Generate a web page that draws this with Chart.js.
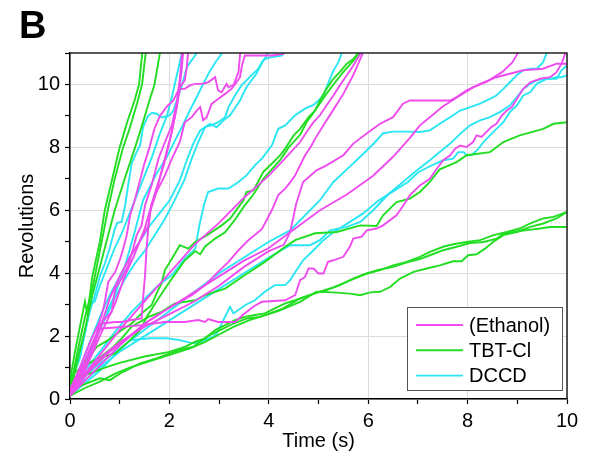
<!DOCTYPE html>
<html>
<head>
<meta charset="utf-8">
<script src="https://cdn.jsdelivr.net/npm/chart.js@4.4.1/dist/chart.umd.min.js"></script>
<style>
  html, body { margin: 0; padding: 0; background: #fff; }
  #wrap { width: 589px; height: 461px; }
</style>
</head>
<body>
<div id="wrap"><canvas id="chart" width="589" height="461"></canvas></div>
<script>
// traces: [time (s), revolutions]
var ethanol1 = [[0,0.3],[0.2,1.0],[0.4,1.8],[0.55,2.3],[0.64,2.4],[0.91,2.45],[1.04,2.45],[1.24,2.51],[1.44,2.56],[1.47,3.2],[1.51,3.94],[1.54,4.78],[1.58,5.52],[1.64,6.2],[1.74,6.58],[1.85,7.3],[1.95,7.9],[2.05,8.5],[2.15,9.3],[2.21,10.0],[2.25,10.5],[2.28,11.1]];
var ethanol2 = [[0,0.2],[0.5,1.61],[0.57,2.35],[0.64,2.67],[0.7,3.09],[0.77,3.72],[0.91,4.04],[1.01,4.46],[1.07,4.78],[1.14,5.2],[1.21,5.84],[1.3,6.3],[1.4,6.9],[1.5,7.5],[1.6,8.0],[1.7,8.6],[1.81,9.0],[1.95,9.3],[2.08,9.49],[2.21,9.91],[2.31,10.13],[2.35,10.55],[2.38,11.1]];
var ethanol3 = [[0,0.3],[0.3,1.2],[0.64,2.45],[0.84,2.77],[0.91,3.51],[1.04,3.83],[1.17,4.25],[1.27,4.78],[1.34,5.2],[1.44,5.52],[1.51,6.16],[1.64,6.79],[1.78,7.64],[1.91,8.17],[2.05,8.7],[2.15,9.44],[2.21,10.18],[2.26,11.1]];
var ethanol4 = [[0,0.1],[0.3,0.9],[0.6,2.0],[0.9,3.0],[1.1,3.9],[1.3,4.6],[1.5,5.4],[1.7,6.5],[1.9,7.5],[2.05,8.5],[2.15,9.3],[2.21,9.86],[2.31,9.86],[2.41,9.97],[2.52,10.02],[2.65,10.02],[2.78,10.07],[2.92,10.23],[2.98,9.81],[3.05,9.75],[3.15,10.02],[3.19,9.91],[3.29,9.99],[3.39,10.39],[3.43,11.1]];
var ethanol5 = [[0,0.3],[0.3,1.0],[0.6,2.2],[0.8,3.2],[1.0,3.9],[1.2,4.5],[1.4,5.0],[1.58,5.52],[1.61,5.95],[1.74,6.58],[1.91,7.11],[2.05,7.64],[2.21,8.17],[2.31,8.8],[2.45,8.96],[2.55,9.17],[2.62,9.28],[2.68,8.86],[2.75,8.96],[2.85,9.38],[2.98,9.54],[3.12,9.7],[3.25,9.86],[3.35,10.07],[3.42,10.23],[3.46,10.6],[3.52,10.92],[3.8,10.92],[4.06,10.92],[4.29,10.97],[4.35,11.1]];
var ethanol6 = [[0,0.2],[0.5,1.2],[1.0,2.2],[1.5,3.1],[2.0,4.0],[2.5,4.9],[3.0,5.6],[3.5,6.4],[4.0,7.1],[4.3,7.6],[4.63,8.17],[4.76,8.49],[4.9,8.8],[5.03,9.02],[5.16,9.33],[5.3,9.65],[5.43,9.97],[5.57,10.29],[5.7,10.6],[5.84,10.97],[5.87,11.1]];
var ethanol7 = [[0,0.1],[0.5,0.9],[1.0,1.7],[1.5,2.4],[2.0,2.9],[2.45,3.3],[2.72,3.62],[2.98,4.04],[3.19,4.36],[3.39,4.73],[3.59,5.05],[3.86,5.4],[4.06,6.0],[4.19,6.48],[4.33,6.69],[4.46,6.95],[4.53,7.11],[4.63,7.43],[4.73,7.75],[4.86,8.06],[4.93,8.27],[5.1,8.7],[5.3,9.2],[5.5,9.7],[5.7,10.3],[5.92,11.1]];
var ethanol8 = [[0,0.2],[0.3,0.8],[0.6,1.3],[1.0,1.8],[1.5,2.3],[2.0,2.7],[2.5,3.1],[3.0,3.6],[3.5,4.2],[4.0,4.7],[4.3,4.9],[4.43,5.3],[4.55,6.2],[4.69,6.9],[4.96,7.27],[5.16,7.43],[5.5,7.75],[5.7,8.12],[5.97,8.44],[6.24,8.75],[6.5,8.96],[6.7,9.39],[6.84,9.49],[7.65,9.49],[7.78,9.6],[7.98,9.81],[8.25,10.02],[8.58,10.23],[9.12,10.45],[9.52,10.5],[9.79,10.66],[10,10.66]];
var ethanol9 = [[0,0.1],[0.4,0.9],[0.8,1.5],[1.2,2.0],[1.6,2.5],[2.0,2.9],[2.5,3.4],[3.0,3.9],[3.5,4.4],[4.0,4.8],[4.6,5.5],[5.03,6.0],[5.57,6.5],[6.1,7.1],[6.5,7.7],[6.84,8.3],[7.04,8.7],[7.24,8.96],[7.5,9.3],[7.8,9.6],[8.1,9.9],[8.4,10.1],[8.7,10.4],[8.9,10.7],[9.05,11.1]];
var ethanol10 = [[0,0.1],[0.2,0.8],[0.4,1.6],[0.55,2.1],[0.64,2.24],[1.04,2.29],[1.44,2.35],[1.91,2.45],[2.31,2.45],[2.58,2.51],[2.72,2.45],[2.78,2.54],[2.98,2.45],[3.32,2.45],[3.5,2.7],[3.7,2.95],[3.86,3.09],[4.33,3.14],[4.53,3.3],[4.63,3.78],[4.73,3.88],[4.8,4.15],[4.9,4.15],[5.0,3.99],[5.1,3.99],[5.19,4.36],[5.3,4.41],[5.5,4.52],[5.63,4.84],[5.7,5.1],[5.87,5.16],[5.97,5.36],[6.17,5.42],[6.3,5.52],[6.57,5.84],[6.71,6.16],[6.84,6.48],[7.04,6.79],[7.24,7.0],[7.38,7.32],[7.51,7.59],[7.65,7.75],[7.75,7.96],[7.85,8.06],[7.98,8.01],[8.11,8.17],[8.18,8.38],[8.28,8.33],[8.38,8.49],[8.48,8.65],[8.58,8.75],[8.69,9.02],[8.79,9.17],[8.89,9.28],[8.99,9.54],[9.12,9.86],[9.26,10.07],[9.46,10.18],[9.66,10.23],[9.79,10.39],[9.89,10.66],[9.96,10.97],[9.98,11.1]];

var tbt1 = [[0,0.6],[0.1,1.5],[0.2,2.3],[0.3,3.1],[0.35,2.7],[0.45,3.9],[0.6,5.0],[0.7,6.0],[0.85,7.0],[1.0,8.0],[1.15,8.8],[1.3,9.5],[1.39,10],[1.46,11.1]];
var tbt2 = [[0,0.3],[0.15,1.5],[0.3,2.6],[0.45,3.5],[0.55,4.3],[0.65,5.1],[0.76,6.0],[0.9,7.0],[1.07,8.0],[1.2,8.6],[1.35,9.4],[1.45,10],[1.53,11.1]];
var tbt3 = [[0,0.2],[0.15,1.2],[0.3,2.2],[0.45,3.3],[0.6,4.2],[0.75,5.1],[0.9,6.0],[1.1,7.0],[1.31,8.0],[1.45,8.7],[1.6,9.5],[1.7,10],[1.82,11.1]];
var tbt4 = [[0,0.3],[0.2,0.9],[0.54,1.66],[0.77,1.87],[1.04,2.19],[1.24,2.4],[1.44,2.72],[1.64,2.98],[1.74,3.35],[1.84,3.67],[1.91,4.1],[2.05,4.46],[2.21,4.89],[2.38,4.78],[2.52,4.99],[2.75,5.2],[3.05,5.52],[3.22,5.73],[3.32,5.95],[3.49,6.32],[3.55,6.58],[3.69,6.63],[3.89,7.22],[4.06,7.48],[4.23,7.75],[4.33,7.96],[4.5,8.38],[4.63,8.59],[4.8,8.96],[4.93,9.17],[5.03,9.49],[5.16,9.86],[5.3,10.18],[5.43,10.4],[5.57,10.66],[5.7,10.81],[5.8,11.0],[5.82,11.1]];
var tbt5 = [[0,0.6],[0.34,0.81],[0.67,1.34],[0.91,1.45],[1.21,1.87],[1.41,2.19],[1.54,2.6],[1.74,3.1],[1.95,3.6],[2.31,4.41],[2.45,4.6],[2.52,4.7],[2.62,4.6],[2.72,4.85],[2.92,5.1],[3.12,5.3],[3.32,5.7],[3.49,6.1],[3.69,6.5],[3.89,7.0],[4.06,7.3],[4.23,7.6],[4.4,8.0],[4.63,8.4],[4.76,8.8],[4.9,9.1],[5.03,9.4],[5.16,9.7],[5.3,10.0],[5.5,10.4],[5.7,10.75],[5.87,11.1]];
var tbt6 = [[0,0.3],[0.03,0.76],[0.3,1.08],[0.57,1.29],[0.84,1.61],[1.04,1.93],[1.24,2.3],[1.58,2.61],[1.84,2.77],[2.11,3.04],[2.52,3.14],[2.72,3.3],[3.12,3.51],[3.52,3.94],[3.92,4.36],[4.33,4.84],[4.53,5.05],[4.93,5.27],[5.37,5.31],[5.84,5.52],[6.17,5.5],[6.3,5.84],[6.57,6.26],[6.84,6.37],[7.04,6.58],[7.24,6.9],[7.44,7.3],[7.78,7.53],[7.98,7.75],[8.45,7.85],[8.72,8.17],[9.05,8.38],[9.52,8.59],[9.73,8.75],[10,8.8]];
var tbt7 = [[0,0.29],[0.34,0.5],[0.6,0.66],[0.8,0.6],[1.01,0.81],[1.41,1.13],[1.74,1.29],[2.01,1.45],[2.21,1.56],[2.48,1.66],[2.75,1.98],[3.02,2.19],[3.29,2.4],[3.56,2.56],[3.82,2.61],[4.02,2.72],[4.29,2.88],[4.63,3.2],[4.9,3.35],[5.16,3.46],[5.43,3.62],[5.7,3.83],[5.97,3.99],[6.24,4.1],[6.5,4.25],[6.77,4.36],[7.04,4.52],[7.24,4.68],[7.51,4.84],[7.71,4.92],[7.98,4.99],[8.25,5.05],[8.52,5.21],[8.79,5.31],[9.05,5.42],[9.26,5.58],[9.52,5.74],[9.73,5.79],[10,5.95]];
var tbt8 = [[0,0.5],[0.3,0.75],[0.7,1.0],[1.0,1.15],[1.5,1.35],[2.0,1.5],[2.31,1.66],[2.52,1.82],[2.72,1.93],[2.92,2.19],[3.12,2.35],[3.32,2.51],[3.52,2.61],[3.72,2.67],[3.92,2.72],[4.12,2.88],[4.33,3.04],[4.53,3.14],[4.73,3.25],[5.0,3.4],[5.3,3.55],[5.6,3.75],[5.9,3.95],[6.2,4.1],[6.5,4.2],[6.8,4.35],[7.04,4.45],[7.24,4.57],[7.51,4.73],[7.78,4.84],[8.05,4.96],[8.32,4.99],[8.59,5.1],[8.72,5.26],[8.92,5.31],[9.19,5.37],[9.46,5.42],[9.66,5.47],[10,5.47]];
var tbt9 = [[0,0.1],[0.3,0.35],[0.6,0.55],[0.9,0.8],[1.2,1.0],[1.5,1.15],[1.8,1.3],[2.1,1.45],[2.4,1.6],[2.7,1.8],[3.0,2.05],[3.3,2.3],[3.6,2.5],[3.9,2.65],[4.2,2.8],[4.63,3.09],[4.96,3.41],[5.3,3.39],[5.63,3.35],[5.84,3.3],[6.04,3.39],[6.24,3.41],[6.44,3.56],[6.64,3.83],[6.91,4.04],[7.18,4.15],[7.44,4.25],[7.71,4.38],[7.88,4.38],[8.01,4.57],[8.18,4.6],[8.35,4.78],[8.52,5.0],[8.72,5.21],[8.99,5.31],[9.26,5.47],[9.52,5.58],[9.79,5.74],[10,5.95]];

var dccd1 = [[0,0.4],[0.1,1.0],[0.2,1.6],[0.3,2.1],[0.4,2.8],[0.5,3.3],[0.6,3.9],[0.7,4.3],[0.8,4.8],[0.9,5.4],[0.95,5.6],[1.04,5.63],[1.11,6.16],[1.17,6.79],[1.24,7.48],[1.34,7.85],[1.41,8.06],[1.47,8.64],[1.57,9.0],[1.65,9.1],[1.74,9.07],[1.85,8.95],[2.01,9.02],[2.08,9.17],[2.25,9.97],[2.35,10.55],[2.55,11.0],[2.57,11.1]];
var dccd2 = [[0,0.2],[0.3,1.2],[0.6,2.3],[0.9,3.3],[1.1,4.2],[1.3,5.3],[1.47,6.32],[1.74,7.16],[1.95,7.69],[2.08,8.12],[2.25,8.64],[2.41,9.17],[2.55,9.6],[2.68,10.02],[2.82,10.44],[2.95,10.76],[3.05,10.97],[3.07,11.1]];
var dccd3 = [[0,0.2],[0.2,1.0],[0.4,1.8],[0.6,2.6],[0.8,3.3],[1.0,3.9],[1.2,4.5],[1.4,5.0],[1.6,5.5],[1.8,5.9],[2.0,6.3],[2.21,6.95],[2.35,7.59],[2.48,8.12],[2.62,8.54],[2.82,8.75],[2.95,8.64],[3.09,8.86],[3.22,9.02],[3.42,9.49],[3.55,9.91],[3.75,10.34],[3.89,10.76],[3.96,10.92],[4.0,11.1]];
var dccd4 = [[0,0.1],[0.3,1.1],[0.6,2.2],[0.9,3.2],[1.1,3.8],[1.3,4.3],[1.5,4.7],[1.7,5.2],[1.9,5.7],[2.1,6.3],[2.31,7.0],[2.45,7.64],[2.58,8.17],[2.72,8.65],[2.85,8.7],[2.98,8.8],[3.12,8.96],[3.19,9.28],[3.32,9.65],[3.45,9.97],[3.65,10.29],[3.79,10.5],[3.86,10.71],[3.92,10.81],[4.06,10.87],[4.26,10.92],[4.35,11.1]];
var dccd5 = [[0,0.5],[0.2,1.3],[0.35,2.5],[0.4,3.0],[0.5,3.1],[0.6,3.6],[0.75,4.2],[0.9,4.8],[1.05,5.3],[1.2,5.9],[1.35,6.5],[1.5,7.1],[1.65,7.7],[1.8,8.4],[1.95,9.0],[2.05,9.6],[2.15,10.3],[2.25,11.0],[2.27,11.1]];
var dccd6 = [[0,0.3],[0.3,0.9],[0.6,1.5],[0.91,2.14],[1.24,2.77],[1.51,3.2],[1.78,3.62],[2.05,3.94],[2.31,4.46],[2.52,4.78],[2.6,5.5],[2.7,6.2],[2.78,6.58],[2.98,6.69],[3.19,6.69],[3.39,6.9],[3.55,7.11],[3.72,7.43],[3.86,7.64],[4.06,8.06],[4.19,8.59],[4.33,8.7],[4.53,9.02],[4.73,9.23],[4.9,9.35],[5.0,9.49],[5.1,9.65],[5.23,10.18],[5.3,10.44],[5.4,10.71],[5.47,11.0],[5.49,11.1]];
var dccd7 = [[0,0.3],[0.5,1.0],[1.0,1.6],[1.5,2.2],[2.0,2.8],[2.5,3.4],[3.0,4.0],[3.5,4.5],[4.0,5.0],[4.43,5.36],[5.03,6.32],[5.3,6.9],[5.57,7.3],[5.84,7.7],[6.1,8.1],[6.3,8.45],[6.5,8.5],[6.8,8.5],[7.04,8.49],[7.24,8.54],[7.44,8.75],[7.65,8.96],[7.85,9.17],[8.05,9.28],[8.25,9.39],[8.45,9.54],[8.58,9.65],[8.72,9.86],[8.85,10.07],[8.99,10.29],[9.12,10.45],[9.26,10.5],[9.39,10.5],[9.52,10.71],[9.59,11.0],[9.61,11.1]];
var dccd8 = [[0,0.2],[0.3,0.6],[0.6,1.0],[1.0,1.5],[1.5,2.0],[2.0,2.5],[2.5,3.0],[3.0,3.5],[3.5,4.0],[4.0,4.5],[4.43,4.89],[4.83,4.89],[5.03,5.05],[5.23,5.36],[5.57,5.47],[5.84,5.63],[6.1,6.0],[6.4,6.5],[6.7,6.9],[7.0,7.3],[7.24,7.59],[7.44,7.85],[7.65,8.12],[7.85,8.43],[8.05,8.7],[8.25,8.86],[8.45,8.96],[8.65,9.12],[8.85,9.33],[8.99,9.6],[9.12,9.86],[9.26,10.02],[9.39,10.13],[9.52,10.18],[9.66,10.18],[9.79,10.23],[9.89,10.23],[10,10.29]];
var dccd9 = [[0,0.1],[0.3,0.5],[0.6,0.9],[0.9,1.4],[1.21,1.87],[1.61,1.93],[1.95,1.93],[2.21,1.87],[2.48,1.77],[2.62,1.82],[2.88,1.98],[2.95,2.08],[3.22,2.93],[3.29,2.72],[3.52,2.98],[3.72,3.14],[3.92,3.41],[4.12,3.62],[4.33,3.62],[4.43,3.78],[4.56,4.1],[4.69,4.41],[4.9,4.73],[5.1,5.05],[5.3,5.3],[5.6,5.6],[5.9,5.9],[6.2,6.3],[6.5,6.6],[6.8,6.9],[7.0,7.2],[7.24,7.4],[7.51,7.59],[7.71,7.64],[7.81,7.85],[7.92,7.85],[7.98,7.75],[8.08,7.75],[8.22,7.96],[8.32,8.17],[8.45,8.38],[8.58,8.59],[8.72,8.8],[8.85,9.12],[8.99,9.33],[9.12,9.65],[9.26,9.75],[9.39,10.02],[9.59,10.18],[9.79,10.18],[9.89,10.45],[10,10.6]];

var ethanolTraces = [ethanol1, ethanol2, ethanol3, ethanol4, ethanol5, ethanol6, ethanol7, ethanol8, ethanol9, ethanol10];
var tbtTraces = [tbt1, tbt2, tbt3, tbt4, tbt5, tbt6, tbt7, tbt8, tbt9];
var dccdTraces = [dccd1, dccd2, dccd3, dccd4, dccd5, dccd6, dccd7, dccd8, dccd9];

var groupNames = ['(Ethanol)', 'TBT-Cl', 'DCCD'];
var groupColors = ['#ee4cee', '#22dd22', '#2ae6f2'];
var xTicks = [0, 2, 4, 6, 8, 10];
var yTicks = [0, 2, 4, 6, 8, 10];

var FONT = '"Liberation Sans", Arial, sans-serif';

function makeDatasets(traces, name, color) {
    var out = [];
    for (var i = 0; i < traces.length; i++) {
        out.push({
            label: name,
            data: traces[i].map(function (p) { return {x: p[0], y: p[1]}; }),
            borderColor: color,
            borderWidth: 1.9,
            pointRadius: 0,
            fill: false,
            tension: 0,
            clip: 0
        });
    }
    return out;
}

var datasets = []
    .concat(makeDatasets(ethanolTraces, groupNames[0], groupColors[0]))
    .concat(makeDatasets(tbtTraces, groupNames[1], groupColors[1]))
    .concat(makeDatasets(dccdTraces, groupNames[2], groupColors[2]));

// panel letter, frame and the boxed legend
var extras = {
    id: 'extras',
    afterDraw: function (chart) {
        var ctx = chart.ctx;
        var a = chart.chartArea;
        ctx.save();
        ctx.strokeStyle = '#222';
        ctx.lineWidth = 1.5;
        ctx.beginPath();
        ctx.moveTo(a.left, a.top);
        ctx.lineTo(a.right, a.top);
        ctx.lineTo(a.right, a.bottom);
        ctx.stroke();

        ctx.fillStyle = '#000';
        ctx.font = 'bold 38px ' + FONT;
        ctx.textBaseline = 'alphabetic';
        ctx.textAlign = 'left';
        ctx.fillText('B', 19, 38);

        var bx = 407, by = 307, bw = 155, bh = 83;
        ctx.fillStyle = '#fff';
        ctx.fillRect(bx, by, bw, bh);
        ctx.strokeStyle = '#555';
        ctx.lineWidth = 1;
        ctx.strokeRect(bx + 0.5, by + 0.5, bw, bh);
        ctx.font = '20px ' + FONT;
        ctx.textBaseline = 'middle';
        for (var i = 0; i < groupNames.length; i++) {
            var y = by + 18 + i * 25.3;
            ctx.strokeStyle = groupColors[i];
            ctx.lineWidth = 1.9;
            ctx.beginPath();
            ctx.moveTo(416, y);
            ctx.lineTo(463, y);
            ctx.stroke();
            ctx.fillStyle = '#000';
            ctx.fillText(groupNames[i], 469, y + 1);
        }
        ctx.restore();
    }
};

function gridColor(c) {
    return c.tick && c.tick.value % 2 === 0 ? '#dcdcdc' : 'rgba(0,0,0,0)';
}

new Chart(document.getElementById('chart'), {
    type: 'line',
    data: {datasets: datasets},
    options: {
        responsive: false,
        animation: false,
        devicePixelRatio: 1,
        layout: {padding: {top: 53, right: 22, left: 0, bottom: 0}},
        plugins: {legend: {display: false}, tooltip: {enabled: false}, title: {display: false}},
        scales: {
            x: {
                type: 'linear',
                min: 0,
                max: 10,
                afterFit: function (s) { s.height = 62; },
                ticks: {
                    stepSize: 1,
                    autoSkip: false,
                    maxRotation: 0,
                    padding: 5,
                    color: '#000',
                    font: {family: FONT, size: 20},
                    callback: function (v) { return xTicks.indexOf(v) >= 0 ? String(v) : ''; }
                },
                grid: {color: gridColor, lineWidth: 1, tickLength: 5, tickColor: '#000', tickWidth: 1.2},
                border: {color: '#000', width: 1.5},
                title: {display: true, text: 'Time (s)', color: '#000', font: {family: FONT, size: 20}, padding: {top: 0, bottom: 8}}
            },
            y: {
                min: 0,
                max: 11,
                afterFit: function (s) { s.width = 70; },
                ticks: {
                    stepSize: 1,
                    autoSkip: false,
                    padding: 5,
                    color: '#000',
                    font: {family: FONT, size: 20},
                    callback: function (v) { return yTicks.indexOf(v) >= 0 ? String(v) : ''; }
                },
                grid: {color: gridColor, lineWidth: 1, tickLength: 5, tickColor: '#000', tickWidth: 1.2},
                border: {color: '#000', width: 1.5},
                title: {display: true, text: 'Revolutions', color: '#000', font: {family: FONT, size: 20}, padding: {top: 15, bottom: 0}}
            }
        }
    },
    plugins: [extras]
});
</script>
</body>
</html>
